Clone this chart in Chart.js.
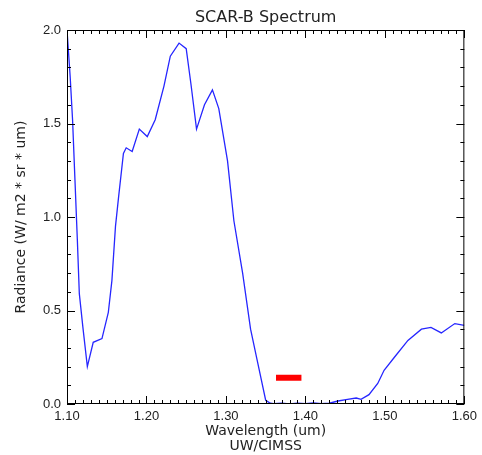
<!DOCTYPE html>
<html>
<head>
<meta charset="utf-8">
<script src="https://cdn.jsdelivr.net/npm/chart.js@4.4.0/dist/chart.umd.min.js"></script>
<style>
  html, body { margin: 0; padding: 0; background: #fff; }
  #wrap { width: 482px; height: 455px; }
</style>
</head>
<body>
<div id="wrap"><canvas id="myChart"></canvas></div>
<script>
// Spektrum adatok
const wavelength = [1.100, 1.104, 1.107, 1.110, 1.113, 1.1155, 1.120, 1.1256,
  1.133, 1.144, 1.152, 1.1565, 1.161, 1.165, 1.171, 1.1745,
  1.182, 1.191, 1.201, 1.211, 1.222, 1.230, 1.241, 1.250,
  1.256, 1.263, 1.273, 1.283, 1.291, 1.302, 1.310, 1.321,
  1.331, 1.339, 1.350, 1.356, 1.36, 1.37, 1.38, 1.39,
  1.40, 1.41, 1.42, 1.43, 1.441, 1.453, 1.464, 1.470,
  1.480, 1.491, 1.499, 1.512, 1.529, 1.546, 1.558, 1.571,
  1.588, 1.600];
const radiance = [2.00, 1.75, 1.52, 1.20, 0.88, 0.59, 0.41, 0.20,
  0.33, 0.35, 0.49, 0.66, 0.95, 1.11, 1.34, 1.37,
  1.35, 1.47, 1.43, 1.52, 1.70, 1.86, 1.93, 1.90,
  1.71, 1.47, 1.60, 1.68, 1.58, 1.30, 0.98, 0.70,
  0.40, 0.24, 0.02, 0.004, 0.002, 0.005, 0.001, 0.005,
  0.002, 0.006, 0.002, 0.004, 0.016, 0.025, 0.032, 0.025,
  0.05, 0.11, 0.18, 0.25, 0.34, 0.40, 0.41, 0.38,
  0.43, 0.42];

// Piros sáv
const bandX = [1.363, 1.395];
const bandY = [0.14, 0.14];

// Tengely beosztások
const xTicks = [1.10, 1.20, 1.30, 1.40, 1.50, 1.60];
const yTicks = [0.0, 0.5, 1.0, 1.5, 2.0];

const textColor = '#222';

// Keret és befelé mutató kis osztások
const framePlugin = {
  id: 'frame',
  afterDatasetsDraw(chart) {
    const ctx = chart.ctx;
    const a = chart.chartArea;
    const xs = chart.scales.x, ys = chart.scales.y;
    ctx.save();
    ctx.strokeStyle = '#000';
    ctx.lineWidth = 1;
    ctx.strokeRect(a.left + 0.5, a.top + 0.5, a.right - a.left - 1, a.bottom - a.top - 1);
    ctx.beginPath();
    for (let i = 0; i <= 50; i++) {
      const px = Math.round(xs.getPixelForValue(1.1 + i * 0.01)) + 0.5;
      const len = i % 10 === 0 ? 8 : 4;
      ctx.moveTo(px, a.bottom); ctx.lineTo(px, a.bottom - len);
      ctx.moveTo(px, a.top); ctx.lineTo(px, a.top + len);
    }
    for (let i = 0; i <= 20; i++) {
      const py = Math.round(ys.getPixelForValue(i * 0.1)) + 0.5;
      const len = i % 5 === 0 ? 8 : 4;
      ctx.moveTo(a.left, py); ctx.lineTo(a.left + len, py);
      ctx.moveTo(a.right, py); ctx.lineTo(a.right - len, py);
    }
    ctx.stroke();
    ctx.restore();
  }
};

const ctx = document.getElementById('myChart').getContext('2d');
const myChart = new Chart(ctx, {
  type: 'line',
  data: {
    datasets: [{
      data: wavelength.map((w, i) => ({ x: w, y: radiance[i] })),
      borderColor: '#2626ff',
      borderWidth: 1.3,
      pointRadius: 0,
      tension: 0,
      fill: false
    }, {
      data: bandX.map((w, i) => ({ x: w, y: bandY[i] })),
      borderColor: '#ff0000',
      borderWidth: 6,
      borderCapStyle: 'butt',
      pointRadius: 0,
      fill: false
    }]
  },
  options: {
    responsive: true,
    maintainAspectRatio: false,
    animation: false,
    layout: { padding: 0 },
    plugins: {
      legend: { display: false },
      tooltip: { enabled: false },
      title: {
        display: true,
        text: 'SCAR-B Spectrum',
        fullSize: false,
        color: textColor,
        font: { family: 'DejaVu Sans', size: 16, weight: 'normal', lineHeight: 1.2 },
        padding: { top: 8, bottom: 2.8 }
      }
    },
    scales: {
      x: {
        type: 'linear',
        min: 1.1,
        max: 1.6,
        afterBuildTicks: s => { s.ticks = xTicks.map(v => ({ value: v })); },
        afterFit: s => { s.height = 51; },
        grid: { display: false, drawTicks: false },
        border: { display: false },
        ticks: {
          color: textColor,
          padding: 5,
          maxRotation: 0,
          font: { family: 'Liberation Sans', size: 13 },
          callback: v => v.toFixed(2)
        },
        title: {
          display: true,
          text: ['Wavelength (um)', 'UW/CIMSS'],
          color: textColor,
          font: { family: 'DejaVu Sans', size: 14, lineHeight: '15px' },
          padding: { top: 0, bottom: 1.5 }
        }
      },
      y: {
        type: 'linear',
        min: 0,
        max: 2,
        afterBuildTicks: s => { s.ticks = yTicks.map(v => ({ value: v })); },
        afterFit: s => { s.width = 67; },
        grid: { display: false, drawTicks: false },
        border: { display: false },
        ticks: {
          color: textColor,
          padding: 6,
          font: { family: 'Liberation Sans', size: 13 },
          callback: v => v.toFixed(1)
        },
        title: {
          display: true,
          text: 'Radiance (W/ m2 * sr * um)',
          color: textColor,
          font: { family: 'DejaVu Sans', size: 14, lineHeight: 1.2 },
          padding: { top: 13, bottom: 0 }
        }
      }
    }
  },
  plugins: [framePlugin]
});
</script>
</body>
</html>
